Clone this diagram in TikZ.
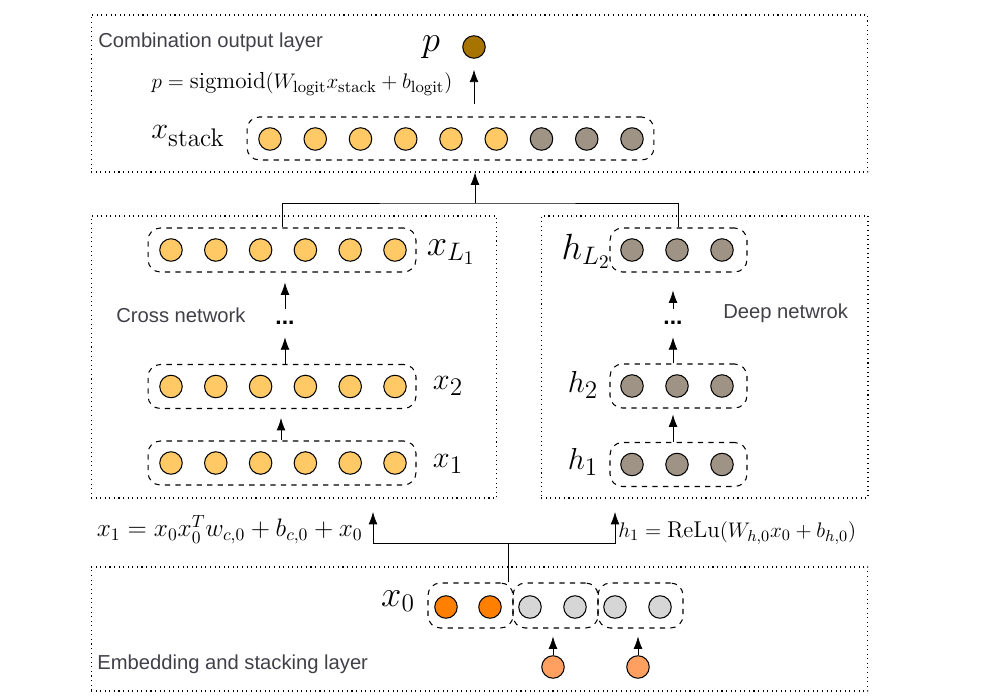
\documentclass[tikz,border=0pt]{standalone}
\usepackage{fontspec}
\setsansfont{Liberation Sans}
\usetikzlibrary{positioning,arrows.meta}

\definecolor{cellyellow}{RGB}{255,201,102}
\definecolor{celltaupe}{RGB}{158,147,132}
\definecolor{cellout}{RGB}{168,116,0}
\definecolor{cellorange}{RGB}{255,128,0}
\definecolor{cellgray}{RGB}{214,214,214}
\definecolor{cellpeach}{RGB}{255,160,96}
\definecolor{captiongray}{RGB}{64,64,72}

\begin{document}
\begin{tikzpicture}[x=0.02cm,y=-0.02cm,>={Latex[length=7pt,width=5pt]},
    neuron/.style={circle,draw,semithick,minimum size=0.45cm,inner sep=0pt},
    group/.style={draw,dashed,semithick,rounded corners=7pt,inner sep=0pt,minimum height=0.88cm},
    layer/.style={draw,dotted,semithick,inner sep=0pt},
    caption/.style={font=\sffamily\fontsize{11.5}{13}\selectfont,text=captiongray,anchor=west,inner sep=0pt},
    var/.style={font=\fontsize{19}{22}\selectfont},
    bigvar/.style={font=\fontsize{21}{24}\selectfont},
    eqn/.style={font=\fontsize{13}{16}\selectfont,inner sep=0pt},
    gap/.style={inner sep=0pt,minimum height=0.56cm,font=\sffamily\bfseries\fontsize{13}{15}\selectfont}]
    \useasboundingbox (0,0) rectangle (984,699);

    % layers
    \node[layer,minimum width=15.54cm,minimum height=3.14cm] (outlayer)   at (479.5, 93.5) {};
    \node[layer,minimum width=8.12cm, minimum height=5.64cm] (crosslayer) at (294  ,357  ) {};
    \node[layer,minimum width=6.54cm, minimum height=5.64cm] (deeplayer)  at (704.5,357  ) {};
    \node[layer,minimum width=15.54cm,minimum height=2.48cm] (emblayer)   at (479.5,629  ) {};

    \node[caption] (outcap)   at (98, 42) {Combination output layer};
    \node[caption] (crosscap) at (116,315) {Cross network};
    \node[caption] (deepcap)  at (723,313) {Deep netwrok};
    \node[caption] (embcap)   at (97,664) {Embedding and stacking layer};

    % output
    \node[neuron,fill=cellout] (pout) at (474,47) {};
    \node[bigvar] (plabel) at (431,47) {$p$};
    \node[eqn,font=\fontsize{13.2}{16}\selectfont] (peq) at (302,84) {$p=\mathrm{sigmoid}(W_{\mathrm{logit}}x_{\mathrm{stack}}+b_{\mathrm{logit}})$};

    \node[group,minimum width=8.14cm,minimum height=0.86cm] (stack) at (450.5,138.5) {};
    \foreach \i in {0,...,5}
        \node[neuron,fill=cellyellow] (s\i) at (270+45.25*\i,139) {};
    \foreach \i in {6,7,8}
        \node[neuron,fill=celltaupe] (s\i) at (270+45.25*\i,139) {};
    \node[var] (stacklabel) at (188,136) {$x_{\hbox{\fontsize{14.5}{16}\selectfont stack}}$};
    \draw[->,shorten <=0.24cm,shorten >=0.22cm] (stack.north -| 474,0) -- (pout.south -| 474,0);

    % cross network
    \node[group,minimum width=5.36cm] (xL) at (282,250) {};
    \node[group,minimum width=5.36cm] (xb) at (282,386.5) {};
    \node[group,minimum width=5.36cm] (xa) at (282,463) {};
    \foreach \row in {xL,xb,xa}
        \foreach \i in {0,...,5}
            \node[neuron,fill=cellyellow] (\row\i) at (171+44.8*\i,0 |- \row) {};
    \node[bigvar] (xLlabel) at (451,252) {$x_{L_1}$};
    \node[var] (xblabel) at (448,386) {$x_2$};
    \node[var] (xalabel) at (448,464) {$x_1$};
    \node[gap] (cdots) at (285,323) {...};
    \draw[->,shorten >=0.18cm] (xa.north -| 281,0) -- (xb.south -| 281,0);
    \draw[->] (xb.north -| cdots) -- (cdots.south);
    \draw[->,shorten >=0.2cm] (cdots.north) -- (xL.south -| cdots);

    % deep network
    \node[group,minimum width=2.74cm] (hL) at (678.5,250) {};
    \node[group,minimum width=2.74cm] (hb) at (678.5,386) {};
    \node[group,minimum width=2.74cm] (ha) at (678.5,464.5) {};
    \foreach \row in {hL,hb,ha}
        \foreach \i in {0,1,2}
            \node[neuron,fill=celltaupe] (\row\i) at (632+45*\i,0 |- \row) {};
    \node[bigvar] (hLlabel) at (586,251) {$h_{L_2}$};
    \node[var] (hblabel) at (583,385) {$h_2$};
    \node[var] (halabel) at (583,462) {$h_1$};
    \node[gap] (ddots) at (673,323) {...};
    \draw[->,shorten >=0.12cm] (ha.north -| ddots) -- (hb.south -| ddots);
    \draw[->] (hb.north -| ddots) -- (ddots.south);
    \draw[->,shorten >=0.36cm] (ddots.north) -- (hL.south -| ddots);

    % combination
    \coordinate (join) at (475,203);
    \draw (xL.north) |- (join) -| (hL.north);
    \draw[->] (join) -- (join |- outlayer.south);

    % embedding
    \node[group,minimum width=1.7cm,minimum height=0.9cm] (x0a) at (470.5,605.5) {};
    \node[group,minimum width=1.7cm,minimum height=0.9cm] (x0b) at (555.5,605.5) {};
    \node[group,minimum width=1.7cm,minimum height=0.9cm] (x0c) at (640.5,605.5) {};
    \node[neuron,fill=cellorange] (e0) at (446,607) {};
    \node[neuron,fill=cellorange] (e1) at (490,607) {};
    \node[neuron,fill=cellgray]   (e2) at (530,607) {};
    \node[neuron,fill=cellgray]   (e3) at (575,607) {};
    \node[neuron,fill=cellgray]   (e4) at (615,607) {};
    \node[neuron,fill=cellgray]   (e5) at (660,607) {};
    \node[bigvar] (x0label) at (398,601) {$x_0$};
    \node[neuron,fill=cellpeach] (sparse1) at (553,667) {};
    \node[neuron,fill=cellpeach] (sparse2) at (638,667) {};
    \draw[->,shorten >=0.16cm] (sparse1) -- (sparse1 |- x0b.south);
    \draw[->,shorten >=0.16cm] (sparse2) -- (sparse2 |- x0c.south);

    \coordinate (split)   at (508,543);
    \coordinate (crossin) at (373,512);
    \coordinate (deepin)  at (615,512);
    \draw (split |- x0a.north) -- (split);
    \draw[->] (split) -| (crossin);
    \draw[->] (split) -| (deepin);
    \node[eqn,font=\fontsize{14.5}{17}\selectfont,anchor=east] (crosseq) at (363,530) {$x_1 = x_0x_0^Tw_{c,0}+b_{c,0}+x_0$};
    \node[eqn,anchor=west] (deepeq)  at (618,533) {$h_1 = \mathrm{ReLu}(W_{h,0}x_0+b_{h,0})$};
\end{tikzpicture}
\end{document}
